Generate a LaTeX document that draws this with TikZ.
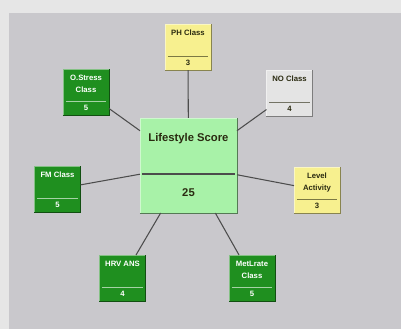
\documentclass[tikz,border=0pt]{standalone}
\usepackage{fontspec}
\setmainfont{Liberation Sans}
\usetikzlibrary{positioning}

\definecolor{outergrey}{HTML}{E6E6E6}
\definecolor{panelgrey}{HTML}{C9C8CC}
\definecolor{nodegreen}{HTML}{1F8F1F}
\definecolor{scoregreen}{HTML}{A8F2A8}
\definecolor{nodeyellow}{HTML}{F7F08F}
\definecolor{nodegrey}{HTML}{E4E4E4}
\definecolor{linkgrey}{HTML}{4C4C4C}
\definecolor{darktext}{HTML}{2A2A10}

\tikzset{
  box/.style={rectangle, fill=#1, draw=#1!55!white, line width=0.5pt, outer sep=0pt, inner sep=0pt, minimum width=1.15cm, minimum height=1.15cm},
  boxtext/.style={font=\fontsize{5.5}{8.5}\selectfont\bfseries, align=center, inner sep=0pt},
  link/.style={draw=linkgrey, line width=0.75pt}
}

\begin{document}
\begin{tikzpicture}[x=0.025cm,y=-0.025cm]
\fill[outergrey] (0,0) rectangle (401,329);
\fill[panelgrey] (9,13) rectangle (401,329);

% name, x, y, fill, text colour, label, value
\def\classnode#1#2#3#4#5#6#7{
  \node[box=#4] (#1) at (#2,#3) {};
  \draw[#4!55!black, line width=0.6pt] (#1.south west) -- (#1.south east) -- (#1.north east);
  \draw[#5!60!#4, line width=0.7pt] ([shift={(3,-14)}]#1.south west) -- ([shift={(-3,-14)}]#1.south east);
  \node[boxtext, text=#5, anchor=north] (#1-name) at ([shift={(0,6)}]#1.north) {#6};
  \node[boxtext, text=#5] (#1-val) at ([shift={(0,-7)}]#1.south) {#7};
}

\classnode{ph}{188}{47}{nodeyellow}{darktext}{PH Class}{3}
\classnode{stress}{86}{92}{nodegreen}{white}{O.Stress\\Class}{5}
\classnode{no}{289.5}{93}{nodegrey}{darktext}{NO Class}{4}
\classnode{fm}{57.5}{189}{nodegreen}{white}{FM Class}{5}
\classnode{level}{317}{190}{nodeyellow}{darktext}{Level\\Activity}{3}
\classnode{hrv}{122.5}{278}{nodegreen}{white}{HRV ANS}{4}
\classnode{met}{252}{278}{nodegreen}{white}{MetLrate\\Class}{5}

% the score box
\node[box=scoregreen, minimum width=2.425cm, minimum height=2.375cm] (score) at (188.5,165.5) {};
\draw[scoregreen!50!black, line width=0.6pt] (score.south west) -- (score.south east) -- (score.north east);
\draw[black!70, line width=0.8pt] ([shift={(2,-39)}]score.south west) -- ([shift={(-2,-39)}]score.south east);
\node[font=\fontsize{8}{10}\selectfont\bfseries, text=darktext] (score-name) at ([shift={(0,21)}]score.north) {Lifestyle Score};
\node[font=\fontsize{8}{10}\selectfont\bfseries, text=darktext] (score-val) at ([shift={(0,-20)}]score.south) {25};

\foreach \n in {ph,stress,no,fm,level,hrv,met}
  \draw[link] (\n) -- (score);

\end{tikzpicture}
\end{document}
